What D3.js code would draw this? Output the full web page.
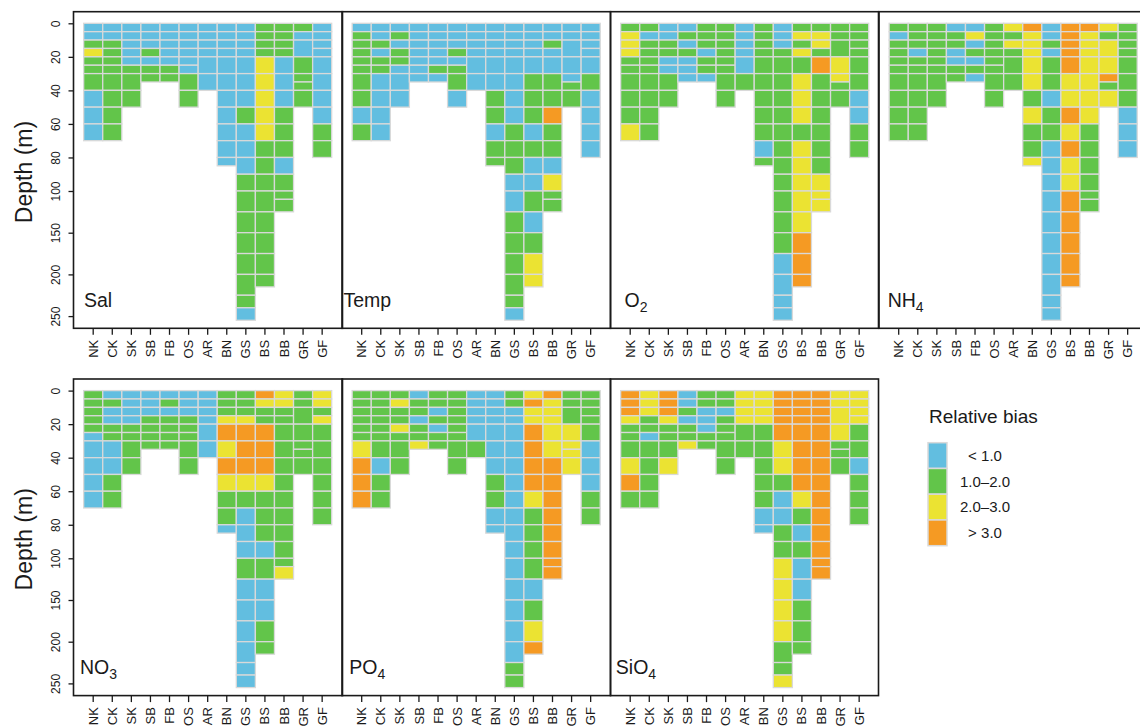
<!DOCTYPE html>
<html><head><meta charset="utf-8">
<script src="https://cdn.jsdelivr.net/npm/d3@7"></script>
<style>
body{margin:0;background:#fff}
svg{display:block;font-family:"Liberation Sans",Arial,Helvetica,sans-serif}
</style>
</head><body>
<svg id="chart" width="1140" height="728"></svg>
<script>
// ---------- DATA ----------
const stations = ["NK","CK","SK","SB","FB","OS","AR","BN","GS","BS","BB","GR","GF"];
// depth bin edges (m) of the sampled layers at each station
const depthEdges = [
  [0,5,10,15,20,25,30,40,50,60,70],                                  // NK
  [0,5,10,15,20,25,30,40,50,60,70],                                  // CK
  [0,5,10,15,20,25,30,40,50],                                        // SK
  [0,5,10,15,20,25,30,35],                                           // SB
  [0,5,10,15,20,25,30,35],                                           // FB
  [0,5,10,15,20,25,30,40,50],                                        // OS
  [0,5,10,15,20,30,40],                                              // AR
  [0,5,10,15,20,30,40,50,60,70,80,85],                               // BN
  [0,5,10,15,20,30,40,50,60,70,80,90,100,125,150,175,200,225,240,255], // GS
  [0,5,10,15,20,30,40,50,60,70,80,90,100,125,150,175,200,215],       // BS
  [0,5,10,15,20,30,40,50,60,70,80,90,100,110,125],                   // BB
  [0,5,10,20,30,35,40,50],                                           // GR
  [0,5,10,15,20,30,40,50,60,70,80]                                   // GF
];
const depthTicks = [0,20,40,60,80,100,150,200,250];
const biasLabels = ["< 1.0","1.0\u20132.0","2.0\u20133.0","> 3.0"];
const biasColors = ["#62bee0","#62c54a","#ebe332","#f59a23"];
// relative-bias class of each layer, top to bottom (0: <1, 1: 1-2, 2: 2-3, 3: >3), one string per station
const sal  = ["0012111000","0011111111","00000111","0001011","0000011","00000011","000000","00000000000","0000000100011111110","11112222211111111","11110001110111","1001111","0000000011"];
const temp = ["0111111101","0010110000","01011000","0000000","0000010","00010110","000000","00000011011","0000000011100111110","00000111010010122","00100113110211","0000011","0000010000"];
const o2   = ["1222111112","1011111111","00110011","0101000","1110110","11111111","000001","11111111101","0001111111111110000","12121222122222333","12213111111222","1112211","1111110011"];
const nh4  = ["1011111111","1110111111","11111111","0110011","0201010","11111111","212111","32222212112","0010110110000000000","33333223232233333","32222222111111","2122312","1111111000"];
const no3  = ["1111100000","0100110011","00001111","0001111","0101111","00011111","000000","11123232110","1112333210001000000","32113332111010011","22111111111112","1111111","2212111111"];
const po4  = ["1111112333","1111111011","12112111","0110112","1101011","11111111","000001","00000001100","1100000000000000011","23223333211110123","32222233333333","1112222","1111100011"];
const sio4 = ["3332111231","2221101111","33321112","0010112","1100011","11011111","222211","22221111100","3333322100112222112","33333333210100111","33333333333333","2222111","2222110111"];
const panelNames = [["Sal",""],["Temp",""],["O","2"],["NH","4"],["NO","3"],["PO","4"],["SiO","4"]];
const panelData = [sal, temp, o2, nh4, no3, po4, sio4];

// ---------- LAYOUT ----------
const colLeft  = [73.5, 342, 610.5, 879];
const colRight = [342.5, 610.5, 878.5, 1152];
const rowTop = [11.7, 379];
const rowH = 316.6;
const firstCol = 19.7, step = 19.08;
const panelPos = [[0,0],[1,0],[2,0],[3,0],[0,1],[1,1],[2,1]];
const labelDx = [10.5, 1.5, 14, 8.7, 6.5, 7.3, 5.3];

const svg = d3.select("#chart");

panelData.forEach((data, pi) => {
  const [c, r] = panelPos[pi];
  const left = colLeft[c], right = colRight[c], top = rowTop[r], bottom = top + rowH;
  const x = d3.scaleBand().domain(stations)
    .range([left + firstCol - step/2, left + firstCol + 12.5*step]).padding(0);
  const y = d3.scaleLinear().domain([0,100,250]).range([top+11.6, top+179.3, top+304.4]);
  const g = svg.append("g");

  const cells = [];
  stations.forEach((s, i) => {
    const e = depthEdges[i];
    for (let k = 0; k < e.length - 1; k++) cells.push({s, d0: e[k], d1: e[k+1], c: +data[i][k]});
  });
  g.append("g").selectAll("rect").data(cells).join("rect")
    .attr("x", d => x(d.s)).attr("width", x.bandwidth())
    .attr("y", d => y(d.d0)).attr("height", d => y(d.d1) - y(d.d0))
    .attr("fill", d => biasColors[d.c])
    .attr("stroke", "#d9d9d9").attr("stroke-width", 1.3);

  // frame
  g.append("rect").attr("x", left).attr("y", top).attr("width", right-left).attr("height", rowH)
    .attr("fill", "none").attr("stroke", "#1a1a1a").attr("stroke-width", 1.6);

  // x axis
  const xa = g.append("g").attr("transform", `translate(0,${bottom})`)
    .call(d3.axisBottom(x).tickSize(6.5));
  xa.select(".domain").remove();
  xa.selectAll("line").attr("stroke", "#1a1a1a").attr("stroke-width", 1.3);
  xa.selectAll("text").attr("transform", "rotate(-90)")
    .attr("x", -11.5).attr("y", 0).attr("dy", "0.35em")
    .attr("text-anchor", "end").attr("font-size", 13).attr("fill", "#1a1a1a")
    .attr("font-family", '"Liberation Sans",Arial,sans-serif');

  // y axis on left column only
  if (c === 0) {
    const ya = g.append("g").attr("transform", `translate(${left},0)`)
      .call(d3.axisLeft(y).tickValues(depthTicks).tickSize(5));
    ya.select(".domain").remove();
    ya.selectAll("line").attr("stroke", "#1a1a1a").attr("stroke-width", 1.3);
    ya.selectAll("text").attr("transform", "rotate(-90)")
      .attr("x", 0).attr("y", -14).attr("dy", 0)
      .attr("text-anchor", "middle").attr("font-size", 12).attr("fill", "#1a1a1a")
      .attr("font-family", '"Liberation Sans",Arial,sans-serif');
    svg.append("text").attr("transform", `translate(32,${(top+bottom)/2 + 2})rotate(-90)`)
      .attr("text-anchor", "middle").attr("font-size", 23).attr("fill", "#1a1a1a")
      .text("Depth (m)");
  }

  // panel label
  const nm = panelNames[pi];
  const t = g.append("text").attr("x", left + labelDx[pi]).attr("y", top + 295)
    .attr("font-size", 19.5).attr("fill", "#1a1a1a");
  t.append("tspan").text(nm[0]);
  if (nm[1]) t.append("tspan").attr("font-size", 14).attr("dy", 5).text(nm[1]);
});

// ---------- LEGEND ----------
const lg = svg.append("g");
lg.append("text").attr("x", 929).attr("y", 423).attr("font-size", 19).attr("fill", "#1a1a1a").text("Relative bias");
const ly = d3.scaleBand().domain(d3.range(biasLabels.length)).range([442.7, 545.7]);
lg.selectAll("rect").data(biasColors).join("rect")
  .attr("x", 928).attr("width", 19).attr("y", (d,i) => ly(i)).attr("height", ly.bandwidth())
  .attr("fill", d => d).attr("stroke", "#d9d9d9").attr("stroke-width", 1.5);
lg.selectAll("text.lab").data(biasLabels).join("text").attr("class", "lab")
  .attr("x", 985).attr("y", (d,i) => ly(i) + ly.bandwidth()/2).attr("dy", "0.35em")
  .attr("text-anchor", "middle").attr("font-size", 15).attr("fill", "#1a1a1a").text(d => d);
</script>
</body></html>
